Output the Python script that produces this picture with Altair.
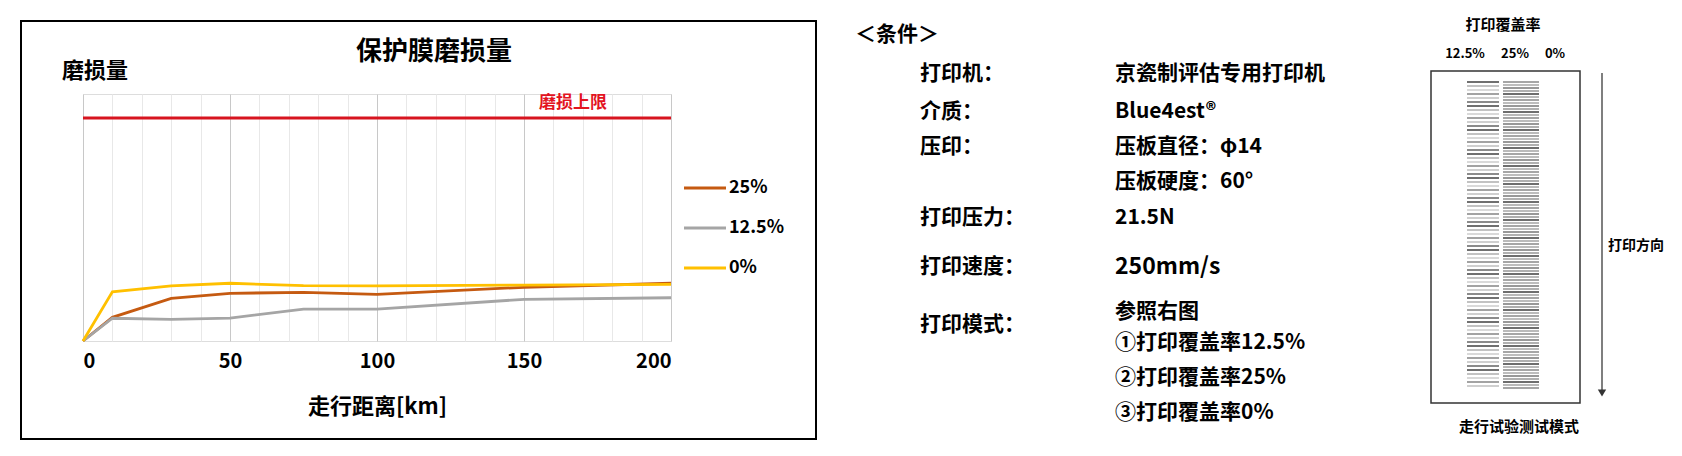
import altair as alt
import pandas as pd

FONT = "Noto Sans CJK SC"

# ---------------- data ----------------
distance_km = [0, 10, 30, 50, 75, 100, 150, 200]
wear_25 = [0, 1.06, 1.91, 2.14, 2.18, 2.09, 2.41, 2.59]
wear_125 = [0, 1.02, 0.97, 1.03, 1.43, 1.43, 1.87, 1.94]
wear_0 = [0, 2.21, 2.47, 2.59, 2.48, 2.47, 2.51, 2.54]
series_names = ["25%", "12.5%", "0%"]
series_colors = ["#c55a11", "#a5a5a5", "#ffc000"]
wear_limit = 10
limit_label = "磨损上限"
y_max = 11.08
x_ticks = list(range(0, 201, 10))

chart_title = "保护膜磨损量"
y_title = "磨损量"
x_title = "走行距离[km]"

cond_header = "＜条件＞"
cond_labels = ["打印机：", "介质：", "压印：", "打印压力：", "打印速度：", "打印模式："]
cond_values = ["京瓷制评估专用打印机", "Blue4est®", "压板直径：φ14", "压板硬度：60°",
               "21.5N", "250mm/s", "参照右图", "①打印覆盖率12.5%", "②打印覆盖率25%", "③打印覆盖率0%"]

pattern_title = "打印覆盖率"
pattern_cols = ["12.5%", "25%", "0%"]
pattern_caption = "走行试验测试模式"
pattern_dir = "打印方向"
shades_125 = ["#4d4d4d", "#b3b3b3", "#d0d0d0", "#8c8c8c", "#c4c4c4", "#6e6e6e"]
shades_25 = ["#a6a6a6", "#bdbdbd", "#999999", "#b0b0b0", "#6e6e6e", "#bababa"]

# ---------------- layout helpers ----------------
OX, OY = 83, 94          # page position of plot origin
PW, PH = 588, 247        # plot area


def rx(v):
    return v - OX


def ry(v):
    return v - OY


def txt(s, x, y, size, align="left", color="#000000", weight="bold"):
    return alt.Chart(pd.DataFrame({"t": [s]})).mark_text(
        align=align, baseline="middle", font=FONT, fontSize=size,
        fontWeight=weight, color=color
    ).encode(text="t:N", x=alt.value(rx(x)), y=alt.value(ry(y)))


xscale = alt.Scale(domain=[0, 200], nice=False)
yscale = alt.Scale(domain=[0, y_max], nice=False)
color_scale = alt.Scale(domain=series_names, range=series_colors)

# ---------------- line chart ----------------
layers = []
for name, vals in zip(series_names, [wear_25, wear_125, wear_0]):
    d = pd.DataFrame({"km": distance_km, "wear": vals, "series": [name] * len(vals)})
    layers.append(
        alt.Chart(d).mark_line(strokeWidth=2.8).encode(
            x=alt.X("km:Q", scale=xscale, axis=alt.Axis(
                values=x_ticks,
                labelExpr="datum.value % 50 === 0 ? datum.label : ''",
                ticks=False, domain=False, grid=True,
                gridColor={"condition": {"test": "datum.value % 50 === 0", "value": "#c8c8c8"},
                           "value": "#e8e8e8"},
                gridWidth=1,
                labelFont=FONT, labelFontSize=20, labelFontWeight="bold",
                labelColor="#000000", labelPadding=10,
                title=x_title, titleFont=FONT, titleFontSize=22,
                titleFontWeight="bold", titleColor="#000000", titlePadding=25)),
            y=alt.Y("wear:Q", scale=yscale, axis=None),
            color=alt.Color("series:N", scale=color_scale, legend=None),
        )
    )

limit_rule = alt.Chart(pd.DataFrame({"limit": [wear_limit]})).mark_rule(
    color="#d7141f", strokeWidth=3
).encode(y=alt.Y("limit:Q", scale=yscale, axis=None))

# outer frame of chart
frame = alt.Chart(pd.DataFrame({"a": [0]})).mark_rect(
    fillOpacity=0, stroke="#000000", strokeWidth=2
).encode(x=alt.value(rx(21)), x2=alt.value(rx(816)), y=alt.value(ry(21)), y2=alt.value(ry(439)))

texts = [
    txt(chart_title, 434, 52, 26, align="center"),
    txt(y_title, 62, 71, 22),
    txt(limit_label, 573, 103, 17, align="center", color="#e3141f"),
]

# manual legend
legend_layers = []
for i, (name, col) in enumerate(zip(series_names, series_colors)):
    ly = 188 + 40 * i
    legend_layers.append(
        alt.Chart(pd.DataFrame({"s": [name]})).mark_rule(color=col, strokeWidth=3).encode(
            x=alt.value(rx(684)), x2=alt.value(rx(726)), y=alt.value(ry(ly)))
    )
    legend_layers.append(txt(name, 729, ly, 18))

# ---------------- conditions panel ----------------
cond_layers = [txt(cond_header, 855, 35, 21)]
label_y = [74, 112, 147, 218, 267, 325]
for s, yy in zip(cond_labels, label_y):
    cond_layers.append(txt(s, 920, yy, 21))
value_y = [74, 112, 147, 182, 218, 267, 312, 343, 378, 413]
for s, yy in zip(cond_values, value_y):
    cond_layers.append(txt(s, 1115, yy, 23 if s == "250mm/s" else 21))

# ---------------- pattern diagram ----------------
pat_layers = [
    txt(pattern_title, 1503, 25, 15, align="center"),
    txt(pattern_cols[0], 1465, 54, 13, align="center"),
    txt(pattern_cols[1], 1515, 54, 13, align="center"),
    txt(pattern_cols[2], 1555, 54, 13, align="center"),
    txt(pattern_caption, 1519, 427, 15, align="center"),
    txt(pattern_dir, 1608, 246, 14),
]
pat_box = alt.Chart(pd.DataFrame({"a": [0]})).mark_rect(
    fillOpacity=0, stroke="#333333", strokeWidth=1.5
).encode(x=alt.value(rx(1431)), x2=alt.value(rx(1580)), y=alt.value(ry(71)), y2=alt.value(ry(403)))

stripe_rows = []
for k, yy in enumerate(range(82, 390, 4)):
    stripe_rows.append({"py": ry(yy), "px": rx(1467), "px2": rx(1499),
                        "c": shades_125[k % len(shades_125)], "w": 1.6})
for k, yy in enumerate(range(82, 390, 3)):
    stripe_rows.append({"py": ry(yy), "px": rx(1503), "px2": rx(1539),
                        "c": shades_25[k % len(shades_25)], "w": 2.0})
stripes = alt.Chart(pd.DataFrame(stripe_rows)).mark_rule().encode(
    x=alt.X("px:Q", scale=None, axis=None),
    x2="px2:Q",
    y=alt.Y("py:Q", scale=None, axis=None),
    color=alt.Color("c:N", scale=None, legend=None),
    strokeWidth=alt.StrokeWidth("w:Q", scale=None, legend=None),
)

arrow_line = alt.Chart(pd.DataFrame({"a": [0]})).mark_rule(color="#555555", strokeWidth=1.5).encode(
    x=alt.value(rx(1602)), y=alt.value(ry(73)), y2=alt.value(ry(390)))
arrow_head = alt.Chart(pd.DataFrame({"a": [0]})).mark_point(
    shape="triangle-down", filled=True, color="#333333", size=70, opacity=1
).encode(x=alt.value(rx(1602)), y=alt.value(ry(393)))

chart = alt.layer(
    frame, *layers, limit_rule, *texts, *legend_layers, *cond_layers,
    pat_box, stripes, arrow_line, arrow_head, *pat_layers
).properties(
    width=PW, height=PH,
    autosize=alt.AutoSizeParams(type="none"),
    padding={"left": OX - 8, "top": OY - 8, "right": 1666 - (OX - 8) - PW, "bottom": 440 - (OY - 8) - PH},
).configure_view(
    stroke="#8c8c8c", strokeWidth=1.5
).configure(font=FONT, background="white")

chart.save("out.html", embed_options={"renderer": "svg", "actions": False})
